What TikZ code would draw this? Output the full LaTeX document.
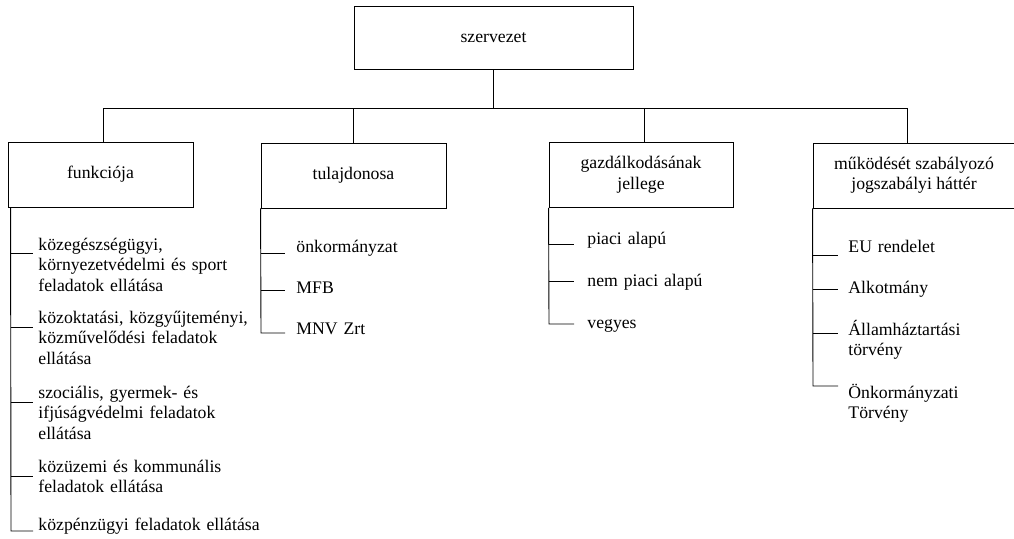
\documentclass[tikz,border=0pt]{standalone}
\usepackage{fontspec}
\setmainfont{Liberation Serif}
\begin{document}
\begin{tikzpicture}[x=1pt,y=-1pt,line width=0.9pt,
    font=\fontsize{17.7}{20.5}\selectfont,
    box/.style={shape=rectangle,draw=black,align=center,minimum height=65pt},
    item/.style={anchor=base west,inner sep=0pt,align=left,text width=240pt}]
  \useasboundingbox (0,0) rectangle (1014,538);

  \node[box,minimum width=279pt,minimum height=63pt] (S) at (493.5,37.5) {szervezet};

  \node[box,minimum width=185pt] (F) at (100.5,174.5) {funkciója};
  \node[box,minimum width=185pt] (T) at (353.5,175.5) {tulajdonosa};
  \node[box,minimum width=184pt] (G) at (641,175) {gazdálkodásának\\jellege};
  \node[box,minimum width=202pt] (J) at (914,175.5) {működését szabályozó\\jogszabályi háttér};

  \coordinate (bus) at (0,108);
  \draw (S.south) -- (S.south |- bus);
  \draw ([xshift=2.5pt]F.north) -- ([xshift=2.5pt]F.north |- bus)
     -- ([xshift=-7pt]J.north |- bus) -- ([xshift=-7pt]J.north);
  \draw (T.north) -- (T.north |- bus);
  \draw ([xshift=3.5pt]G.north) -- ([xshift=3.5pt]G.north |- bus);

  % funkciója
  \node[item] (f1) at (38,250) {közegészségügyi,\\környezetvédelmi és sport\\feladatok ellátása};
  \node[item] (f2) at (38,323) {közoktatási, közgyűjteményi,\\közművelődési feladatok\\ellátása};
  \node[item] (f3) at (38,398) {szociális, gyermek- és\\ifjúságvédelmi feladatok\\ellátása};
  \node[item] (f4) at (38,472) {közüzemi és kommunális\\feladatok ellátása};
  \node[item] (f5) at (38,530) {közpénzügyi feladatok ellátása};
  \coordinate (f1s) at (11,253);
  \coordinate (f2s) at (11,327);
  \coordinate (f3s) at (11,402);
  \coordinate (f4s) at (11,476);
  \coordinate (f5s) at (11,531);
  \draw ([xshift=3pt]F.south west) -- (f5s) -- ++(22,0);
  \draw (f1s) -- ++(22,0);
  \draw (f2s) -- ++(22,0);
  \draw (f3s) -- ++(22,0);
  \draw (f4s) -- ++(22,0);

  % tulajdonosa
  \node[item] (t1) at (296,252) {önkormányzat};
  \node[item] (t2) at (296,293) {MFB};
  \node[item] (t3) at (296,334) {MNV Zrt};
  \coordinate (t1s) at (261,253);
  \coordinate (t2s) at (261,290);
  \coordinate (t3s) at (261,333);
  \draw (T.south west) -- (t3s) -- ++(24,0);
  \draw (t1s) -- ++(24,0);
  \draw (t2s) -- ++(24,0);

  % gazdálkodásának jellege
  \node[item] (g1) at (587,244) {piaci alapú};
  \node[item] (g2) at (587,286) {nem piaci alapú};
  \node[item] (g3) at (587,328) {vegyes};
  \coordinate (g1s) at (549,244);
  \coordinate (g2s) at (549,281);
  \coordinate (g3s) at (549,324);
  \draw (G.south west) -- (g3s) -- ++(25,0);
  \draw (g1s) -- ++(25,0);
  \draw (g2s) -- ++(25,0);

  % jogszabályi háttér
  \node[item] (j1) at (848,252) {EU rendelet};
  \node[item] (j2) at (848,293) {Alkotmány};
  \node[item] (j3) at (848,335) {Államháztartási\\törvény};
  \node[item] (j4) at (848,398) {Önkormányzati\\Törvény};
  \coordinate (j1s) at (813,255);
  \coordinate (j2s) at (813,289);
  \coordinate (j3s) at (813,333);
  \coordinate (j4s) at (813,386);
  \draw (J.south west) -- (j4s) -- ++(25,0);
  \draw (j1s) -- ++(25,0);
  \draw (j2s) -- ++(25,0);
  \draw (j3s) -- ++(25,0);
\end{tikzpicture}
\end{document}
